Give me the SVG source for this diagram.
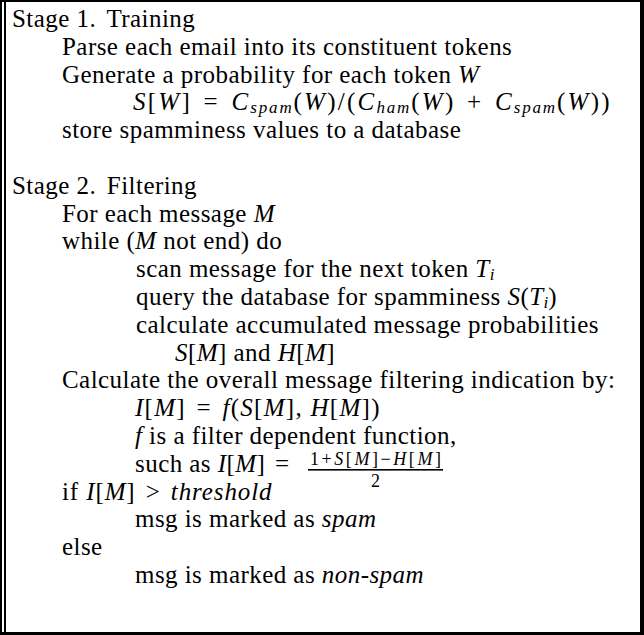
<svg xmlns="http://www.w3.org/2000/svg" width="644" height="635" viewBox="0 0 644 635">
<style>
  text { font-family: "Liberation Serif", "Times New Roman", serif; font-size: 25px; letter-spacing: 0.45px; fill: #000; }
  .i { font-style: italic; }
  .sub { font-size: 17px; font-style: italic; letter-spacing: 0; }
  .small { font-size: 18px; letter-spacing: 0; }
  .smi { font-style: italic; }
  .frame { fill: #000; }
</style>
<rect width="644" height="635" fill="#fff"/>
<g id="frame">
  <rect class="frame" x="0" y="0" width="644" height="2"/>
  <rect class="frame" x="0" y="0" width="2" height="635"/>
  <rect class="frame" x="4" y="2" width="2" height="633"/>
  <rect class="frame" x="640" y="0" width="4" height="635"/>
  <rect class="frame" x="0" y="632" width="644" height="3"/>
</g>
<g id="stage1">
  <text x="12" y="27">Stage 1. <tspan dx="4">Training</tspan></text>
  <text x="62" y="54.8">Parse each email into its constituent tokens</text>
  <text x="62" y="82.6">Generate a probability for each token <tspan class="i">W</tspan></text>
  <text x="133" y="110.4" textLength="477" lengthAdjust="spacing"><tspan class="i">S</tspan>[<tspan class="i">W</tspan>] <tspan dx="3">=</tspan> <tspan class="i" dx="3">C</tspan><tspan class="sub" dy="3">spam</tspan><tspan dy="-3">(</tspan><tspan class="i">W</tspan>)/(<tspan class="i">C</tspan><tspan class="sub" dy="3">ham</tspan><tspan dy="-3">(</tspan><tspan class="i">W</tspan>) <tspan dx="3">+</tspan> <tspan class="i" dx="3">C</tspan><tspan class="sub" dy="3">spam</tspan><tspan dy="-3">(</tspan><tspan class="i">W</tspan>))</text>
  <text x="62" y="138.2">store spamminess values to a database</text>
</g>
<g id="stage2">
  <text x="12" y="193.8">Stage 2. <tspan dx="4">Filtering</tspan></text>
  <text x="62" y="221.6">For each message <tspan class="i">M</tspan></text>
  <text x="62" y="249.4">while (<tspan class="i">M</tspan> not end) do</text>
  <text x="136" y="277.2">scan message for the next token <tspan class="i">T</tspan><tspan class="sub" dy="3">i</tspan></text>
  <text x="136" y="305">query the database for spamminess <tspan class="i">S</tspan>(<tspan class="i">T</tspan><tspan class="sub" dy="3">i</tspan><tspan dy="-3">)</tspan></text>
  <text x="136" y="332.8">calculate accumulated message probabilities</text>
  <text x="175" y="360.6"><tspan class="i">S</tspan>[<tspan class="i">M</tspan>] and <tspan class="i">H</tspan>[<tspan class="i">M</tspan>]</text>
  <text x="62" y="388.4">Calculate the overall message filtering indication by:</text>
  <text x="135" y="416.2" textLength="245" lengthAdjust="spacing"><tspan class="i">I</tspan>[<tspan class="i">M</tspan>] <tspan dx="3">=</tspan> <tspan class="i" dx="3">f</tspan>(<tspan class="i">S</tspan>[<tspan class="i">M</tspan>], <tspan class="i">H</tspan>[<tspan class="i">M</tspan>])</text>
  <text x="135" y="444"><tspan class="i">f</tspan> is a filter dependent function,</text>
  <text x="135" y="471.8">such as <tspan class="i">I</tspan>[<tspan class="i">M</tspan>] <tspan dx="3">=</tspan></text>
  <text class="small" x="310" y="465" textLength="131" lengthAdjust="spacing">1+<tspan class="smi">S</tspan>[<tspan class="smi">M</tspan>]−<tspan class="smi">H</tspan>[<tspan class="smi">M</tspan>]</text>
  <rect x="308" y="469" width="135" height="1.6" fill="#000"/>
  <text class="small" x="375.5" y="487" text-anchor="middle">2</text>
  <text x="62" y="499.6" textLength="210" lengthAdjust="spacing">if <tspan class="i">I</tspan>[<tspan class="i">M</tspan>] <tspan dx="3">&gt;</tspan> <tspan class="i" dx="3">threshold</tspan></text>
  <text x="135" y="527.4">msg is marked as <tspan class="i">spam</tspan></text>
  <text x="62" y="555.2">else</text>
  <text x="135" y="583">msg is marked as <tspan class="i">non-spam</tspan></text>
</g>
</svg>
